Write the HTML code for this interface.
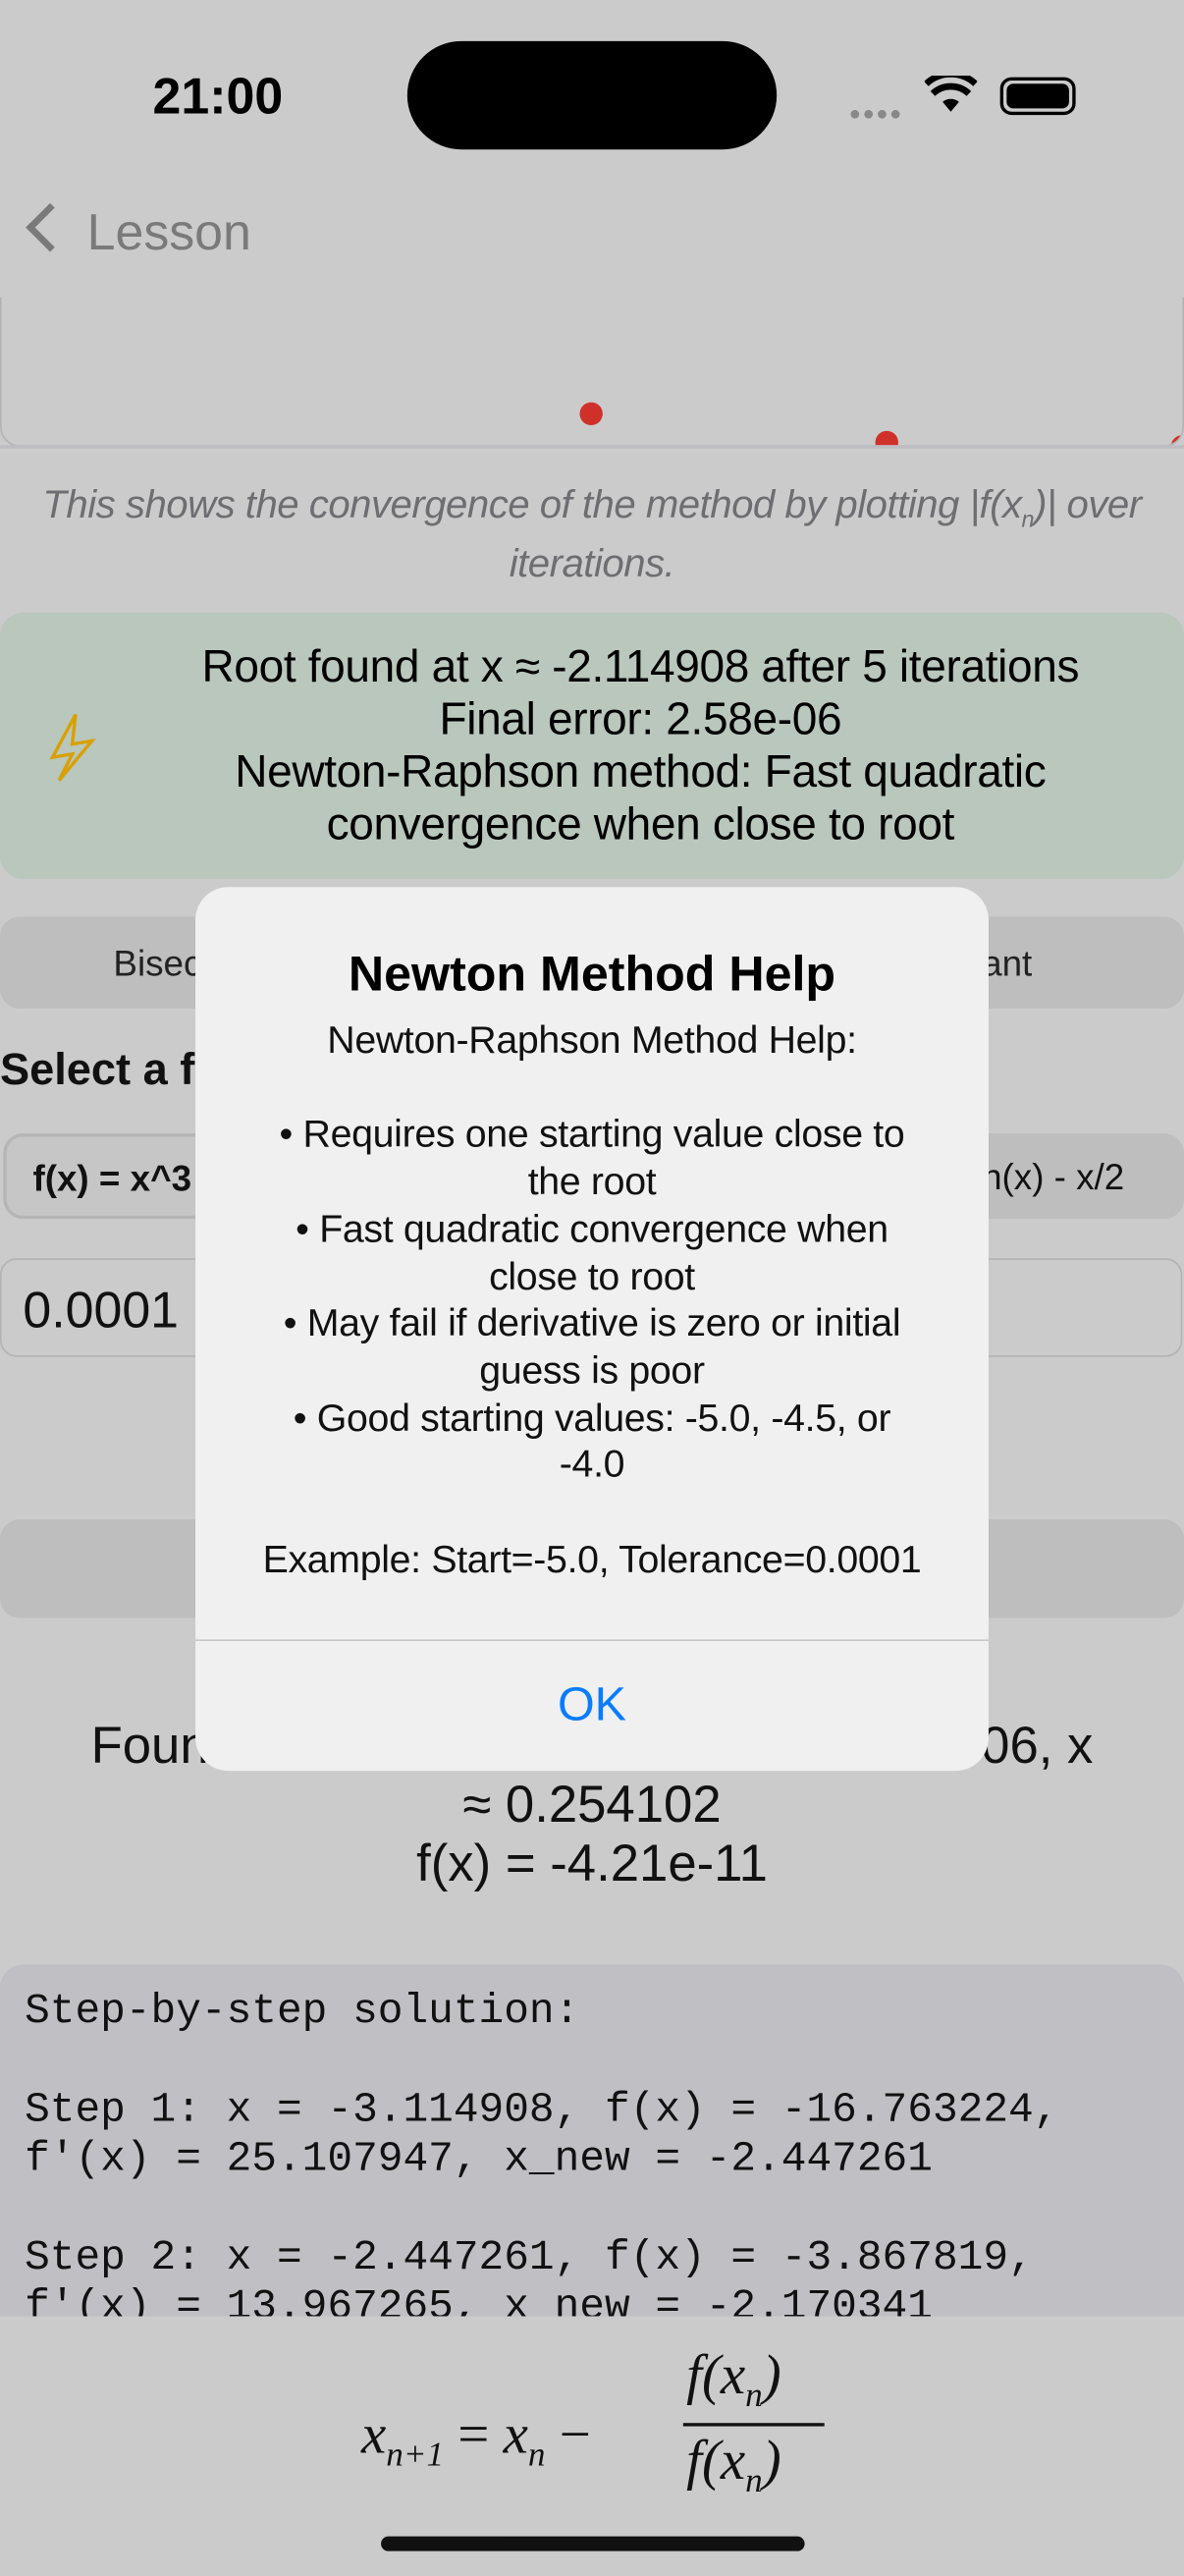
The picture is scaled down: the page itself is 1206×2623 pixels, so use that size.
<!DOCTYPE html>
<html><head><meta charset="utf-8">
<style>
html,body{margin:0;padding:0;width:1206px;height:2622px;overflow:hidden;background:#cbcbcb;}
#root{position:absolute;left:0;top:0;width:721px;height:1568px;transform:scale(1.67268);transform-origin:0 0;font-family:"Liberation Sans",sans-serif;background:#cbcbcb;overflow:hidden;}
.abs{position:absolute;}
.c{text-align:center;}
.mono{font-family:"Liberation Mono",monospace;}
</style></head><body>
<div id="root">
  <div class="abs" style="left:0;top:150px;width:719px;height:121px;border:1px solid #b4b4b8;border-top:none;border-radius:0 0 12px 12px;overflow:hidden;">
    <svg id="chart" width="721" height="122" viewBox="0 150 721 122" style="position:absolute;left:-1px;top:0;">
      <defs><clipPath id="plotclip"><rect x="0" y="192" width="721" height="80"/></clipPath></defs>
      <g id="marks" clip-path="url(#plotclip)"></g>
    </svg>
  </div>
  <div class="abs" style="left:0;top:271px;width:721px;height:2px;background:#bdbdc2"></div>

  <div class="abs" style="left:0;top:0;width:721px;height:181px;background:#cbcbcb;"></div>
  <div class="abs" style="left:93px;top:41px;font-size:31px;font-weight:bold;color:#000">21:00</div>
  <div class="abs" style="left:248px;top:25px;width:225px;height:66px;border-radius:33px;background:#000"></div>
  <div class="abs" style="left:517px;top:62px;font-size:12px;color:#888;letter-spacing:1px">●●●●</div>
  <svg class="abs" style="left:563px;top:46px" width="32" height="24" viewBox="0 0 32 24"><path d="M16 22 L11 16 A8 8 0 0 1 21 16Z" fill="#000"/><path d="M5 11 A16 16 0 0 1 27 11" stroke="#000" stroke-width="4" fill="none"/><path d="M1 5 A22 22 0 0 1 31 5" stroke="#000" stroke-width="4" fill="none"/></svg>
  <div class="abs" style="left:609px;top:47px;width:46px;height:23px;border:2px solid #000;border-radius:7px;box-sizing:border-box;padding:2px"><div style="width:100%;height:100%;background:#000;border-radius:4px"></div></div>
  <div class="abs" style="left:14px;top:124px;font-size:31px;color:#7a7a7a">
    <span style="display:inline-block;width:17px;height:17px;border-left:4px solid #7a7a7a;border-bottom:4px solid #7a7a7a;transform:rotate(45deg);margin-right:18px;position:relative;top:-3px;left:6px"></span>Lesson</div>

  <div class="abs c" style="left:-10px;top:294px;width:741px;font-size:24px;font-style:italic;color:#6e6e72;line-height:28px;letter-spacing:-0.3px">This shows the convergence of the method by plotting |f(x<sub style="font-size:14px">n</sub>)| over<br>iterations.</div>

  <div class="abs" style="left:0;top:373px;width:721px;height:162px;border-radius:14px;background:#b9c7bc;">
    <svg class="abs" style="left:28px;top:60px" width="32" height="44" viewBox="0 0 32 44"><path d="M18 2 L4 28 L16 26 L8 42 L28 18 L16 20 Z" fill="none" stroke="#d8a000" stroke-width="2"/></svg>
    <div class="abs c" style="left:60px;top:17px;width:660px;font-size:27.5px;line-height:32px;color:#000;letter-spacing:-0.2px">Root found at x ≈ -2.114908 after 5 iterations<br>Final error: 2.58e-06<br>Newton-Raphson method: Fast quadratic<br>convergence when close to root</div>
  </div>

  <div class="abs" style="left:0;top:558px;width:721px;height:56px;border-radius:12px;background:#bebebe;"></div>
  <div class="abs" style="left:69px;top:574px;font-size:22px;color:#222">Bisection</div>
  <div class="abs" style="left:560px;top:574px;font-size:22px;color:#222">Secant</div>
  <div class="abs" style="left:0;top:636px;font-size:27px;font-weight:bold;color:#111">Select a function</div>
  <div class="abs" style="left:2px;top:690px;width:200px;height:52px;border-radius:12px;background:#c6c6c6;border:2px solid #b5b5b5;box-sizing:border-box;font-size:22px;padding:13px 16px;font-weight:bold;color:#111">f(x) = x^3</div>
  <div class="abs" style="left:520px;top:690px;width:201px;height:52px;border-radius:12px;background:#bebebe;font-size:22px;padding:14px 0 0 62px;box-sizing:border-box;color:#111">sin(x) - x/2</div>
  <div class="abs" style="left:0;top:766px;width:720px;height:60px;border-radius:10px;border:1px solid #b4b4b4;box-sizing:border-box;font-size:31px;padding:13px 13px;color:#111">0.0001</div>
  <div class="abs" style="left:0;top:925px;width:721px;height:60px;border-radius:12px;background:#bebebe"></div>
  <div class="abs c" style="left:-20px;top:1044px;width:761px;font-size:31.5px;line-height:36px;color:#111">Found root: x ≈ -2.114908, error 2.58e-06, x<br>≈ 0.254102<br>f(x) = -4.21e-11</div>

  <div class="abs mono" style="left:0;top:1196px;width:721px;height:214px;border-radius:14px 14px 0 0;background:#bfbfc4;overflow:hidden;font-size:25.6px;line-height:30px;color:#111;padding:14px 15px;box-sizing:border-box;white-space:pre">Step-by-step solution:

Step 1: x = -3.114908, f(x) = -16.763224,
f'(x) = 25.107947, x_new = -2.447261

Step 2: x = -2.447261, f(x) = -3.867819,
f'(x) = 13.967265, x_new = -2.170341</div>

  <div class="abs" style="left:0;top:1410px;width:721px;height:158px;background:#cbcbcb"></div>
  <div class="abs" style="left:220px;top:1428px;font-family:'Liberation Serif',serif;font-size:34px;color:#111;font-style:italic">
    <span style="position:absolute;left:0;top:36px;white-space:nowrap">x<sub style="font-size:21px">n+1</sub> <span style="font-style:normal">=</span> x<sub style="font-size:21px">n</sub> <span style="font-style:normal">−</span></span>
    <span style="position:absolute;left:198px;top:0;white-space:nowrap">f(x<sub style="font-size:21px">n</sub>)</span>
    <span style="position:absolute;left:196px;top:47px;width:86px;height:2px;background:#111"></span>
    <span style="position:absolute;left:198px;top:52px;white-space:nowrap">f(x<sub style="font-size:21px">n</sub>)</span>
  </div>
  <div class="abs" style="left:232px;top:1544px;width:258px;height:9px;border-radius:5px;background:#111"></div>

  <div class="abs" style="left:119px;top:540px;width:483px;height:538px;border-radius:20px;background:#f0f0f0;">
    <div class="abs c" style="left:0;top:37px;width:483px;font-size:30px;font-weight:bold;color:#000">Newton Method Help</div>
    <div class="abs c" style="left:0;top:79px;width:483px;font-size:23.5px;line-height:28.7px;color:#111;letter-spacing:-0.2px">Newton-Raphson Method Help:<br><br>• Requires one starting value close to<br>the root<br>• Fast quadratic convergence when<br>close to root<br>• May fail if derivative is zero or initial<br>guess is poor<br>• Good starting values: -5.0, -4.5, or<br>-4.0<br><br>Example: Start=-5.0, Tolerance=0.0001</div>
    <div class="abs" style="left:0;top:458px;width:483px;height:1px;background:#c8c8cc"></div>
    <div class="abs c" style="left:0;top:459px;width:483px;height:79px;line-height:79px;font-size:29px;color:#0a7cff">OK</div>
  </div>
</div>
<script>
const iterations = [1, 2, 3, 4, 5];
const absResiduals = [16.763224, 3.867819, 0.52, 0.013, 0.00001];
const g = document.getElementById('marks');
const xScale = i => 180 * (i - 1) + 180;
const yScale = v => 272 - v * 5.2;
iterations.forEach((it, k) => {
  const c = document.createElementNS('http://www.w3.org/2000/svg', 'circle');
  c.setAttribute('cx', xScale(it));
  c.setAttribute('cy', yScale(absResiduals[k]));
  c.setAttribute('r', 7);
  c.setAttribute('fill', '#d0302a');
  
  
  g.appendChild(c);
});
</script>
</body></html>
